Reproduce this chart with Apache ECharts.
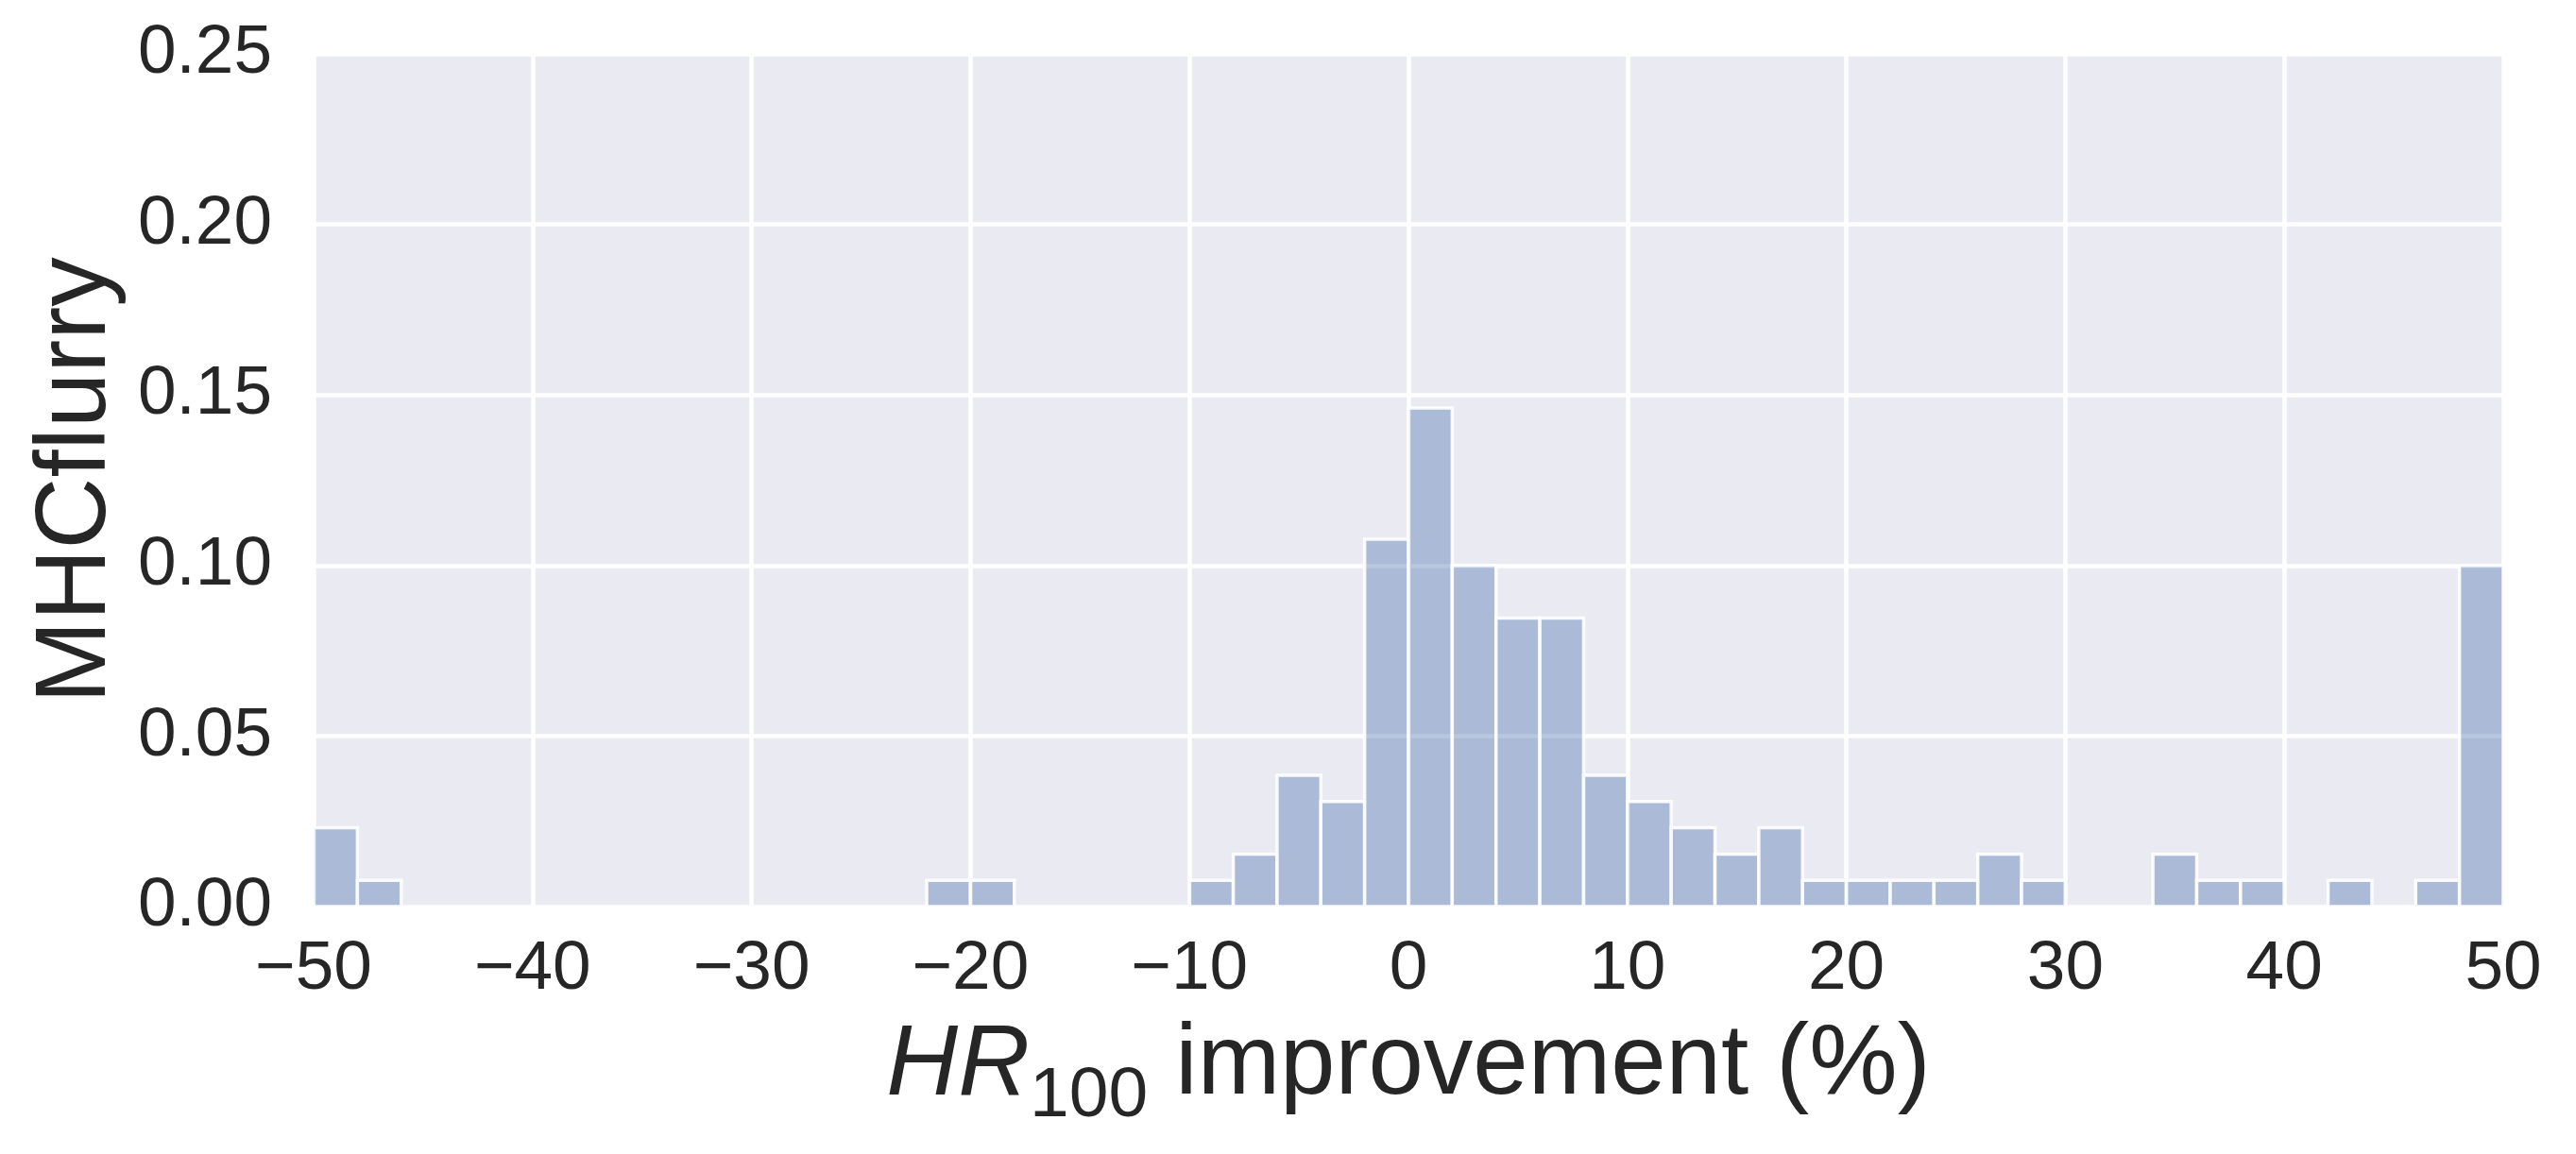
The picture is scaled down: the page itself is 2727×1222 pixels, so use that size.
<!DOCTYPE html>
<html>
<head>
<meta charset="utf-8">
<script src="https://cdn.jsdelivr.net/npm/echarts@6/dist/echarts.min.js"></script>
<style>
  html, body { margin: 0; padding: 0; background: #fff; }
  #chart { width: 2727px; height: 1222px; }
</style>
</head>
<body>
<div id="chart"></div>
<script>
// bin left edges (width 2) and their share of peptides
var binStart = [-50, -48, -46, -44, -42, -40, -38, -36, -34, -32,
                -30, -28, -26, -24, -22, -20, -18, -16, -14, -12,
                -10, -8, -6, -4, -2, 0, 2, 4, 6, 8,
                10, 12, 14, 16, 18, 20, 22, 24, 26, 28,
                30, 32, 34, 36, 38, 40, 42, 44, 46, 48];
var binWidth = 2;
var freq = [0.0231, 0.0077, 0, 0, 0, 0, 0, 0, 0, 0,
            0, 0, 0, 0, 0.0077, 0.0077, 0, 0, 0, 0,
            0.0077, 0.0154, 0.0385, 0.0308, 0.1077, 0.1462, 0.1, 0.0846, 0.0846, 0.0385,
            0.0308, 0.0231, 0.0154, 0.0231, 0.0077, 0.0077, 0.0077, 0.0077, 0.0154, 0.0077,
            0, 0, 0.0154, 0.0077, 0.0077, 0, 0.0077, 0, 0.0077, 0.1];
var yTicks = [0, 0.05, 0.10, 0.15, 0.20, 0.25];
var xTicks = [-50, -40, -30, -20, -10, 0, 10, 20, 30, 40, 50];

var font = "'Liberation Sans', Arial, sans-serif";
var ink = "#262626";

var data = [];
binStart.forEach(function (s, i) {
  data.push([s, s + binWidth, freq[i]]);
});

var chart = echarts.init(document.getElementById("chart"));
chart.setOption({
  backgroundColor: "#ffffff",
  animation: false,
  grid: { left: 332, right: 77, top: 57, bottom: 262, show: true, backgroundColor: "#EAEAF2", borderWidth: 0 },
  xAxis: {
    type: "value",
    min: xTicks[0],
    max: xTicks[xTicks.length - 1],
    interval: 10,
    axisLine: { show: false },
    axisTick: { show: false },
    splitLine: { show: true, lineStyle: { color: "#ffffff", width: 4.5 } },
    axisLabel: {
      margin: 30,
      fontFamily: font,
      fontSize: 73,
      color: ink,
      formatter: function (v) { return v < 0 ? "\u2212" + Math.abs(v) : String(v); }
    },
    name: "{it|HR}{sub|100}{txt| improvement (%)}",
    nameLocation: "middle",
    nameGap: 100,
    nameTextStyle: {
      color: ink,
      rich: {
        it: { fontFamily: font, fontStyle: "italic", fontSize: 105, color: ink },
        sub: { fontFamily: font, fontSize: 75, color: ink, padding: [64, 0, 0, 0] },
        txt: { fontFamily: font, fontSize: 105, color: ink }
      }
    }
  },
  yAxis: {
    type: "value",
    min: yTicks[0],
    max: yTicks[yTicks.length - 1],
    interval: 0.05,
    axisLine: { show: false },
    axisTick: { show: false },
    splitLine: { show: true, lineStyle: { color: "#ffffff", width: 4.5 } },
    axisLabel: {
      margin: 44,
      fontFamily: font,
      fontSize: 73,
      color: ink,
      formatter: function (v) { return v.toFixed(2); }
    },
    name: "MHCflurry",
    nameLocation: "middle",
    nameGap: 196,
    nameTextStyle: { fontFamily: font, fontSize: 105, color: ink }
  },
  series: [{
    type: "custom",
    data: data,
    encode: { x: [0, 1], y: 2 },
    renderItem: function (params, api) {
      if (api.value(2) <= 0) return;
      var p0 = api.coord([api.value(0), api.value(2)]);
      var p1 = api.coord([api.value(1), 0]);
      return {
        type: "rect",
        shape: { x: p0[0], y: p0[1], width: p1[0] - p0[0], height: p1[1] - p0[1] },
        style: { fill: "rgba(76,114,176,0.4)", stroke: "rgba(255,255,255,0.9)", lineWidth: 3.5 }
      };
    }
  }]
});
</script>
</body>
</html>
